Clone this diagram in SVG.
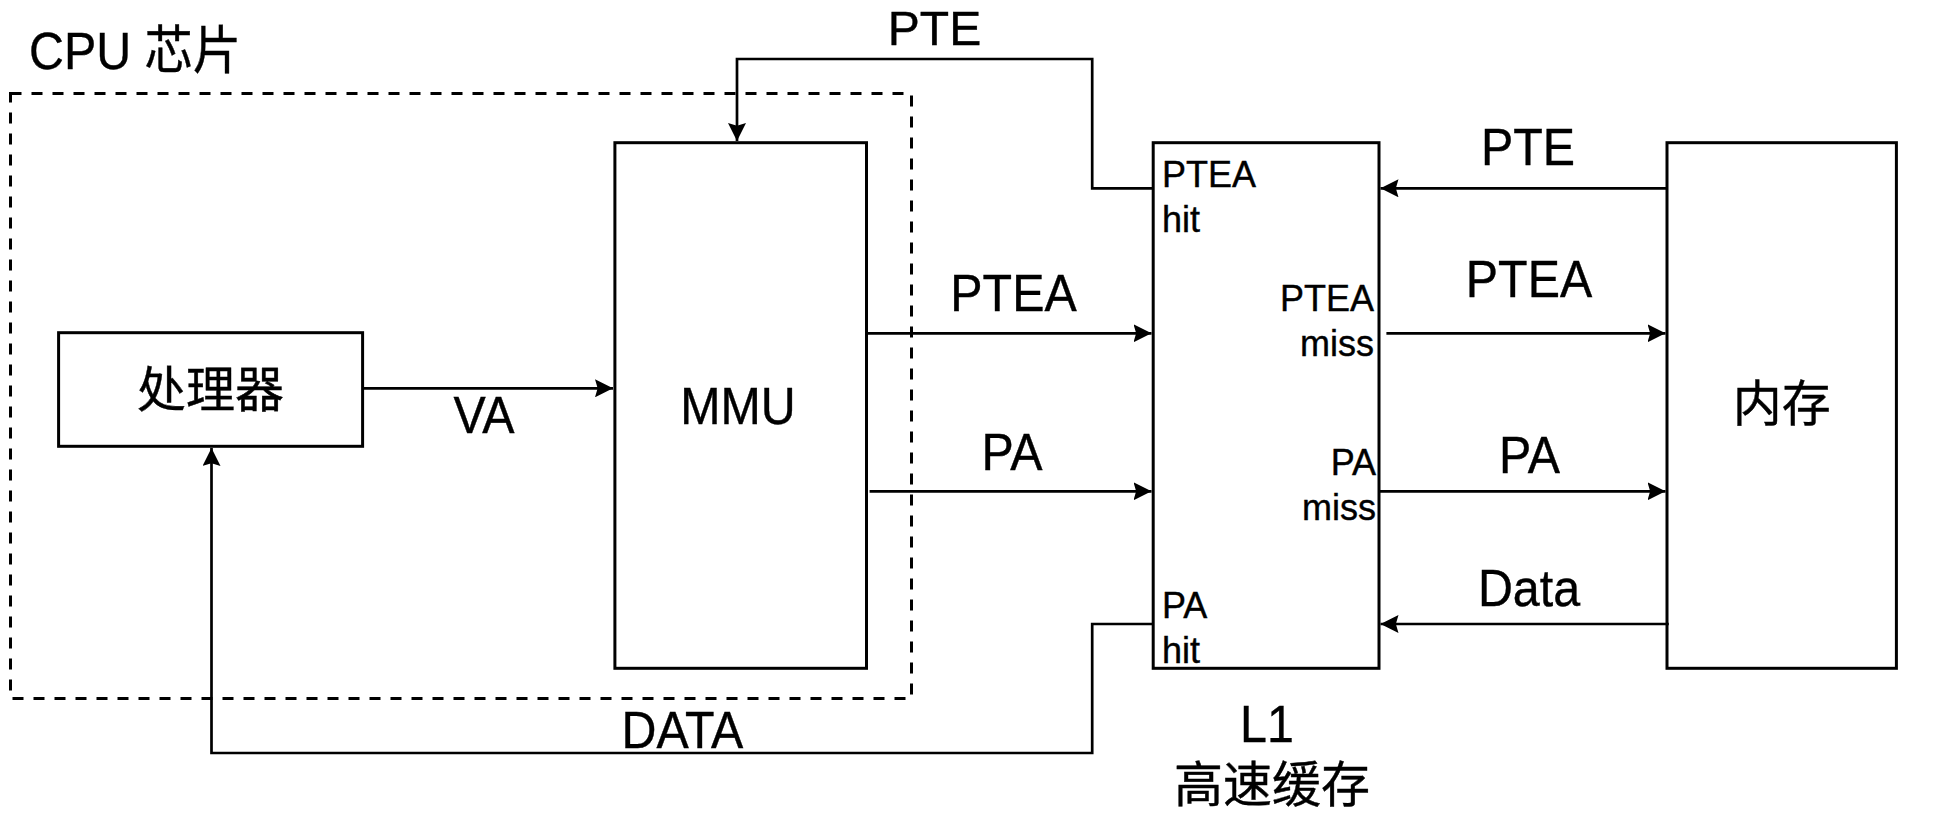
<svg xmlns="http://www.w3.org/2000/svg" width="1934" height="818" viewBox="0 0 1934 818">
<style>
.box{fill:#fff;stroke:#000;stroke-width:3}
.dash{fill:none;stroke:#000;stroke-width:3;stroke-dasharray:11 10}
.con{fill:none;stroke:#000;stroke-width:2.7;marker-end:url(#arr)}
text{font-family:"Liberation Sans",Arial,"Noto Sans CJK SC",sans-serif;fill:#000;stroke:#000;stroke-width:0.4}
.big{font-size:52px;text-anchor:middle}
.cjk{font-size:49px;text-anchor:middle}
.sm{font-size:36px}
.end{text-anchor:end}
</style>
<defs>
<marker id="arr" markerUnits="userSpaceOnUse" markerWidth="18" markerHeight="18" viewBox="0 0 17 17" refX="17" refY="8.5" orient="auto">
<path d="M0,0 L17,8.5 L0,17 L2.5,8.5 Z" fill="#000"/>
</marker>
</defs>
<rect width="1934" height="818" fill="#fff"/>
<g id="cpu-chip">
<rect class="dash" x="10.5" y="93.5" width="901" height="605"/>
<text transform="translate(29 69) scale(0.93 1)" font-size="52">CPU 芯片</text>
</g>
<g id="processor">
<rect class="box" x="58.6" y="332.7" width="304" height="113.6"/>
<text class="cjk" x="210.6" y="407">处理器</text>
</g>
<g id="mmu">
<rect class="box" x="614.9" y="142.7" width="251.6" height="525.6"/>
<text class="big" transform="translate(738 424) scale(0.93 1)">MMU</text>
</g>
<g id="l1-cache">
<rect class="box" x="1153.2" y="142.7" width="225.8" height="525.6"/>
<text class="sm" x="1162" y="186.7">PTEA</text>
<text class="sm" x="1162" y="231.7">hit</text>
<text class="sm end" x="1374" y="311">PTEA</text>
<text class="sm end" x="1374" y="356">miss</text>
<text class="sm end" x="1376" y="475">PA</text>
<text class="sm end" x="1376" y="520">miss</text>
<text class="sm" x="1162" y="618.3">PA</text>
<text class="sm" x="1162" y="663.3">hit</text>
<text class="big" transform="translate(1267 742) scale(0.93 1)">L1</text>
<text class="cjk" x="1272" y="802">高速缓存</text>
</g>
<g id="memory">
<rect class="box" x="1667" y="142.7" width="229.4" height="525.6"/>
<text class="cjk" x="1781.7" y="421">内存</text>
</g>
<g id="connectors">
<path class="con" d="M362.6,388.3 H613"/>
<path class="con" d="M1153,188.3 H1092.2 V59 H737 V141"/>
<path class="con" d="M1667,188.3 H1380.5"/>
<path class="con" d="M866.5,333.3 H1151.5"/>
<path class="con" d="M1386.4,333.3 H1665.5"/>
<path class="con" d="M869.6,491.3 H1151.5"/>
<path class="con" d="M1379,491.3 H1665.5"/>
<path class="con" d="M1668.8,624 H1380.5"/>
<path class="con" d="M1153,624 H1092.2 V753 H211.5 V448"/>
<text class="big" transform="translate(484 433) scale(0.93 1)">VA</text>
<text class="big" transform="translate(934.5 44.5) scale(0.98 1)" font-size="49" style="font-size:49px">PTE</text>
<text class="big" transform="translate(1528 165) scale(0.93 1)">PTE</text>
<text class="big" transform="translate(1013.5 311) scale(0.93 1)">PTEA</text>
<text class="big" transform="translate(1529 297) scale(0.93 1)">PTEA</text>
<text class="big" transform="translate(1012 470) scale(0.93 1)">PA</text>
<text class="big" transform="translate(1529.5 473) scale(0.93 1)">PA</text>
<text class="big" transform="translate(1529 606) scale(0.93 1)">Data</text>
<text class="big" transform="translate(682.4 748) scale(0.93 1)">DATA</text>
</g>
</svg>
